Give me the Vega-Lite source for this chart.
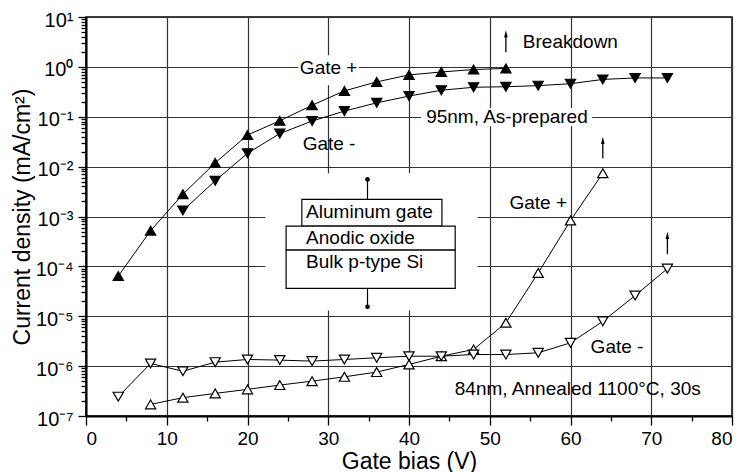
{
  "$schema": "https://vega.github.io/schema/vega-lite/v6.json",
  "width": 646,
  "height": 399,
  "autosize": {"type": "none"},
  "padding": {"left": 86, "top": 17, "right": 10, "bottom": 56},
  "background": "white",
  "config": {
    "view": {"stroke": "black", "strokeWidth": 1.5},
    "font": "Liberation Sans",
    "axis": {
      "labelFont": "Liberation Sans",
      "titleFont": "Liberation Sans",
      "titleFontWeight": "normal",
      "labelColor": "black",
      "titleColor": "black",
      "domainColor": "black",
      "domainWidth": 2,
      "tickColor": "black",
      "tickWidth": 1.3,
      "gridWidth": 1.2,
      "labelOverlap": false
    }
  },
  "datasets": {
    "series": [
      {"s": "A", "x": 4, "y": 6.4e-5}, {"s": "A", "x": 8, "y": 5.2e-4}, {"s": "A", "x": 12, "y": 2.8e-3},
      {"s": "A", "x": 16, "y": 1.19e-2}, {"s": "A", "x": 20, "y": 4.3e-2}, {"s": "A", "x": 24, "y": 8.3e-2},
      {"s": "A", "x": 28, "y": 0.17}, {"s": "A", "x": 32, "y": 0.33}, {"s": "A", "x": 36, "y": 0.5},
      {"s": "A", "x": 40, "y": 0.69}, {"s": "A", "x": 44, "y": 0.79}, {"s": "A", "x": 48, "y": 0.885},
      {"s": "A", "x": 52, "y": 0.93},
      {"s": "B", "x": 12, "y": 1.32e-3}, {"s": "B", "x": 16, "y": 5.2e-3}, {"s": "B", "x": 20, "y": 1.85e-2},
      {"s": "B", "x": 24, "y": 4.6e-2}, {"s": "B", "x": 28, "y": 8.2e-2}, {"s": "B", "x": 32, "y": 0.13},
      {"s": "B", "x": 36, "y": 0.19}, {"s": "B", "x": 40, "y": 0.26}, {"s": "B", "x": 44, "y": 0.34},
      {"s": "B", "x": 48, "y": 0.39}, {"s": "B", "x": 52, "y": 0.4}, {"s": "B", "x": 56, "y": 0.42},
      {"s": "B", "x": 60, "y": 0.46}, {"s": "B", "x": 64, "y": 0.56}, {"s": "B", "x": 68, "y": 0.6},
      {"s": "B", "x": 72, "y": 0.6},
      {"s": "C", "x": 8, "y": 1.71e-7}, {"s": "C", "x": 12, "y": 2.33e-7}, {"s": "C", "x": 16, "y": 2.84e-7},
      {"s": "C", "x": 20, "y": 3.42e-7}, {"s": "C", "x": 24, "y": 4.17e-7}, {"s": "C", "x": 28, "y": 5.0e-7},
      {"s": "C", "x": 32, "y": 6.1e-7}, {"s": "C", "x": 36, "y": 7.6e-7}, {"s": "C", "x": 40, "y": 1.08e-6},
      {"s": "C", "x": 44, "y": 1.58e-6}, {"s": "C", "x": 48, "y": 2.16e-6}, {"s": "C", "x": 52, "y": 7.4e-6},
      {"s": "C", "x": 56, "y": 7.4e-5}, {"s": "C", "x": 60, "y": 8.3e-4}, {"s": "C", "x": 64, "y": 7.4e-3},
      {"s": "D", "x": 4, "y": 2.44e-7}, {"s": "D", "x": 8, "y": 1.13e-6}, {"s": "D", "x": 12, "y": 7.9e-7},
      {"s": "D", "x": 16, "y": 1.2e-6}, {"s": "D", "x": 20, "y": 1.36e-6}, {"s": "D", "x": 24, "y": 1.32e-6},
      {"s": "D", "x": 28, "y": 1.26e-6}, {"s": "D", "x": 32, "y": 1.36e-6}, {"s": "D", "x": 36, "y": 1.47e-6},
      {"s": "D", "x": 40, "y": 1.58e-6}, {"s": "D", "x": 44, "y": 1.58e-6}, {"s": "D", "x": 48, "y": 1.71e-6},
      {"s": "D", "x": 52, "y": 1.71e-6}, {"s": "D", "x": 56, "y": 1.85e-6}, {"s": "D", "x": 60, "y": 2.93e-6},
      {"s": "D", "x": 64, "y": 7.9e-6}, {"s": "D", "x": 68, "y": 2.6e-5}, {"s": "D", "x": 72, "y": 9.0e-5}
    ],
    "masks": [
      {"x": 22.2, "x2": 48.5, "y": 1.3e-5, "y2": 7.4e-3},
      {"x": 26.3, "x2": 33.8, "y": 0.43, "y2": 1.71},
      {"x": 41.5, "x2": 62.7, "y": 0.0648, "y2": 0.149}
    ],
    "boxes": [
      {"x": 26.73, "x2": 44.08, "y": 6.42e-4, "y2": 2.2e-3},
      {"x": 24.78, "x2": 45.72, "y": 2.12e-4, "y2": 6.42e-4},
      {"x": 24.78, "x2": 45.72, "y": 3.62e-5, "y2": 2.12e-4}
    ],
    "leads": [
      {"x": 34.86, "y": 2.2e-3, "y2": 5.54e-3},
      {"x": 34.86, "y": 1.55e-5, "y2": 3.62e-5}
    ],
    "dots": [
      {"x": 34.86, "y": 5.54e-3},
      {"x": 34.86, "y": 1.55e-5}
    ],
    "arrows": [
      {"x": 52, "y": 1.97, "y2": 4.52},
      {"x": 64, "y": 0.0148, "y2": 0.0329},
      {"x": 72, "y": 1.76e-4, "y2": 4.1e-4}
    ],
    "heads": [
      {"x": 52, "y": 4.52},
      {"x": 64, "y": 0.0329},
      {"x": 72, "y": 4.1e-4}
    ],
    "labels": [
      {"x": 30.05, "y": 0.93, "text": "Gate +"},
      {"x": 30.1, "y": 0.029, "text": "Gate -"},
      {"x": 52.13, "y": 0.1, "text": "95nm, As-prepared"},
      {"x": 56.0, "y": 1.88e-3, "text": "Gate +"},
      {"x": 65.76, "y": 2.45e-6, "text": "Gate -"},
      {"x": 60.9, "y": 3.43e-7, "text": "84nm, Annealed 1100°C, 30s"}
    ],
    "leftlabels": [
      {"x": 54.1, "y": 3.13, "text": "Breakdown"},
      {"x": 27.26, "y": 1.24e-3, "text": "Aluminum gate"},
      {"x": 27.26, "y": 3.74e-4, "text": "Anodic oxide"},
      {"x": 27.26, "y": 1.2e-4, "text": "Bulk p-type Si"}
    ]
  },
  "encoding": {
    "x": {
      "field": "x", "type": "quantitative",
      "scale": {"domain": [0, 80], "nice": false},
      "axis": {
        "title": "Gate bias (V)",
        "grid": true,
        "values": [0, 5, 10, 15, 20, 25, 30, 35, 40, 45, 50, 55, 60, 65, 70, 75, 80],
        "labelExpr": "datum.value % 10 == 0 ? datum.label : ''",
        "tickSize": {"condition": {"test": "datum.value % 10 == 0", "value": 9}, "value": 5},
        "gridColor": {"condition": {"test": "datum.value % 10 == 0", "value": "#333333"}, "value": "rgba(0,0,0,0)"},
        "labelFontSize": 19,
        "labelPadding": 4,
        "titleFontSize": 23,
        "titlePadding": 2
      }
    },
    "y": {
      "field": "y", "type": "quantitative",
      "scale": {"type": "log", "domain": [1e-7, 10], "nice": false},
      "axis": {
        "title": "Current density (mA/cm²)",
        "grid": true,
        "values": [1e-7, 2e-7, 3e-7, 4e-7, 5e-7, 6e-7, 7e-7, 8e-7, 9e-7,
                   1e-6, 2e-6, 3e-6, 4e-6, 5e-6, 6e-6, 7e-6, 8e-6, 9e-6,
                   1e-5, 2e-5, 3e-5, 4e-5, 5e-5, 6e-5, 7e-5, 8e-5, 9e-5,
                   1e-4, 2e-4, 3e-4, 4e-4, 5e-4, 6e-4, 7e-4, 8e-4, 9e-4,
                   0.001, 0.002, 0.003, 0.004, 0.005, 0.006, 0.007, 0.008, 0.009,
                   0.01, 0.02, 0.03, 0.04, 0.05, 0.06, 0.07, 0.08, 0.09,
                   0.1, 0.2, 0.3, 0.4, 0.5, 0.6, 0.7, 0.8, 0.9,
                   1, 2, 3, 4, 5, 6, 7, 8, 9, 10],
        "labelExpr": "abs(log(datum.value)/LN10 - round(log(datum.value)/LN10)) < 0.001 ? ['10⁻⁷','10⁻⁶','10⁻⁵','10⁻⁴','10⁻³','10⁻²','10⁻¹','10⁰','10¹'][round(log(datum.value)/LN10)+7] : ''",
        "tickSize": {"condition": {"test": "abs(log(datum.value)/LN10 - round(log(datum.value)/LN10)) < 0.001", "value": 8}, "value": 5},
        "gridColor": {"condition": {"test": "abs(log(datum.value)/LN10 - round(log(datum.value)/LN10)) < 0.001", "value": "#333333"}, "value": "rgba(0,0,0,0)"},
        "labelFontSize": 20,
        "labelPadding": 5,
        "labelOffset": 3,
        "titleFontSize": 23,
        "titlePadding": 1
      }
    }
  },
  "layer": [
    {
      "data": {"name": "masks"},
      "mark": {"type": "rect", "fill": "white", "strokeWidth": 0},
      "encoding": {"x2": {"field": "x2"}, "y2": {"field": "y2"}}
    },
    {
      "data": {"name": "series"},
      "mark": {"type": "line", "color": "black", "strokeWidth": 1},
      "encoding": {"detail": {"field": "s"}, "order": {"field": "x"}}
    },
    {
      "data": {"name": "series"},
      "mark": {"type": "point", "filled": true, "stroke": "black", "strokeWidth": 1.2, "size": 105, "opacity": 1},
      "encoding": {
        "shape": {"field": "s", "scale": {"domain": ["A", "B", "C", "D"], "range": ["triangle-up", "triangle-down", "triangle-up", "triangle-down"]}, "legend": null},
        "fill": {"field": "s", "scale": {"domain": ["A", "B", "C", "D"], "range": ["black", "black", "white", "white"]}, "legend": null}
      }
    },
    {
      "data": {"name": "boxes"},
      "mark": {"type": "rect", "fill": "white", "stroke": "black", "strokeWidth": 1.2},
      "encoding": {"x2": {"field": "x2"}, "y2": {"field": "y2"}}
    },
    {
      "data": {"name": "leads"},
      "mark": {"type": "rule", "color": "black", "strokeWidth": 1.2},
      "encoding": {"y2": {"field": "y2"}}
    },
    {
      "data": {"name": "dots"},
      "mark": {"type": "point", "shape": "circle", "filled": true, "color": "black", "size": 22, "opacity": 1},
      "encoding": {}
    },
    {
      "data": {"name": "arrows"},
      "mark": {"type": "rule", "color": "black", "strokeWidth": 1.3},
      "encoding": {"y2": {"field": "y2"}}
    },
    {
      "data": {"name": "heads"},
      "mark": {"type": "point", "shape": "M0,-1L-0.45,0.8L0.45,0.8Z", "filled": true, "color": "black", "size": 64, "opacity": 1},
      "encoding": {}
    },
    {
      "data": {"name": "labels"},
      "mark": {"type": "text", "font": "Liberation Sans", "fontSize": 19, "align": "center", "baseline": "middle", "color": "black"},
      "encoding": {"text": {"field": "text"}}
    },
    {
      "data": {"name": "leftlabels"},
      "mark": {"type": "text", "font": "Liberation Sans", "fontSize": 19, "align": "left", "baseline": "middle", "color": "black"},
      "encoding": {"text": {"field": "text"}}
    }
  ]
}
